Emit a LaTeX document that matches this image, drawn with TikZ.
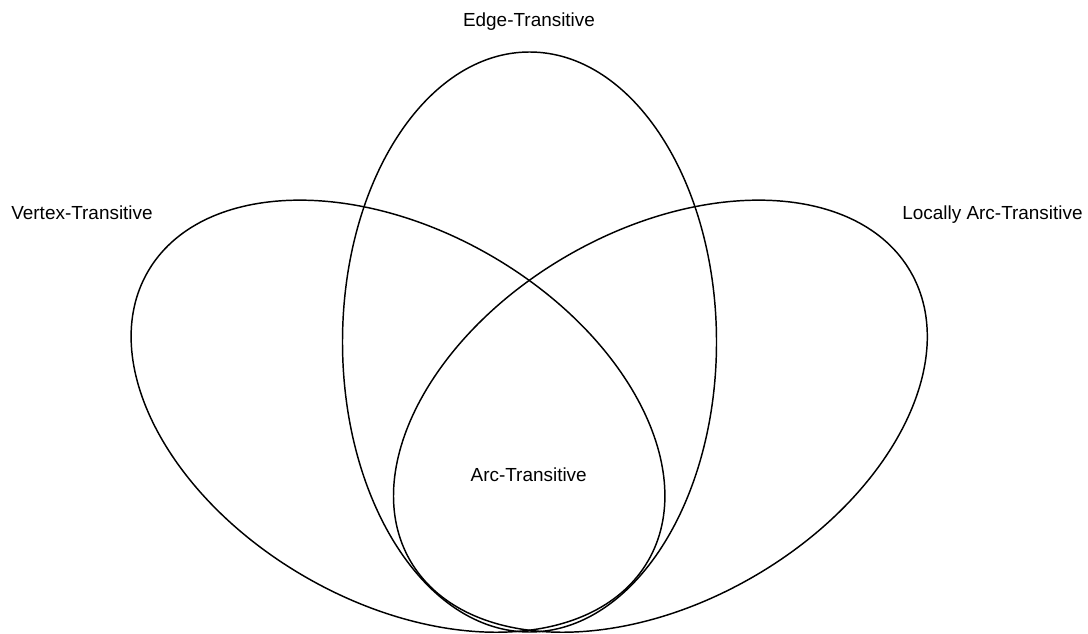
\documentclass[tikz,border=0pt]{standalone}
\usepackage{fontspec}
\setmainfont{Liberation Sans}
\usetikzlibrary{calc}

\tikzset{
	venn/.style={line width=1.1pt},
	setlabel/.style={font=\fontsize{14.2}{17}\selectfont, inner sep=0pt, anchor=base}
}

\begin{document}
\begin{tikzpicture}[x=0.75pt, y=0.75pt]
			%%%%% START %%%%%
			
			\useasboundingbox (0, 0) rectangle (1088, -634);
			
			% edge-transitive
			\draw[venn] (529.5, -342) ellipse [x radius=187, y radius=290];
			
			% vertex-transitive
			\draw[venn, rotate around={-30:(398, -416.2)}] (398, -416.2) ellipse [x radius=288.9, y radius=185.5];
			
			% locally arc-transitive
			\draw[venn, rotate around={30:(660.4, -416.2)}] (660.4, -416.2) ellipse [x radius=288.9, y radius=185.5];
			
			\node[setlabel] (edgetr) at (529, -27) {Edge-Transitive};
			\node[setlabel] (vertextr) at (82, -220) {Vertex-Transitive};
			\node[setlabel] (locarctr) at (992.5, -220) {Locally Arc-Transitive};
			\node[setlabel] (arctr) at (528.7, -481) {Arc-Transitive};
			
			%%%%% END %%%%%
		\end{tikzpicture}
\end{document}
